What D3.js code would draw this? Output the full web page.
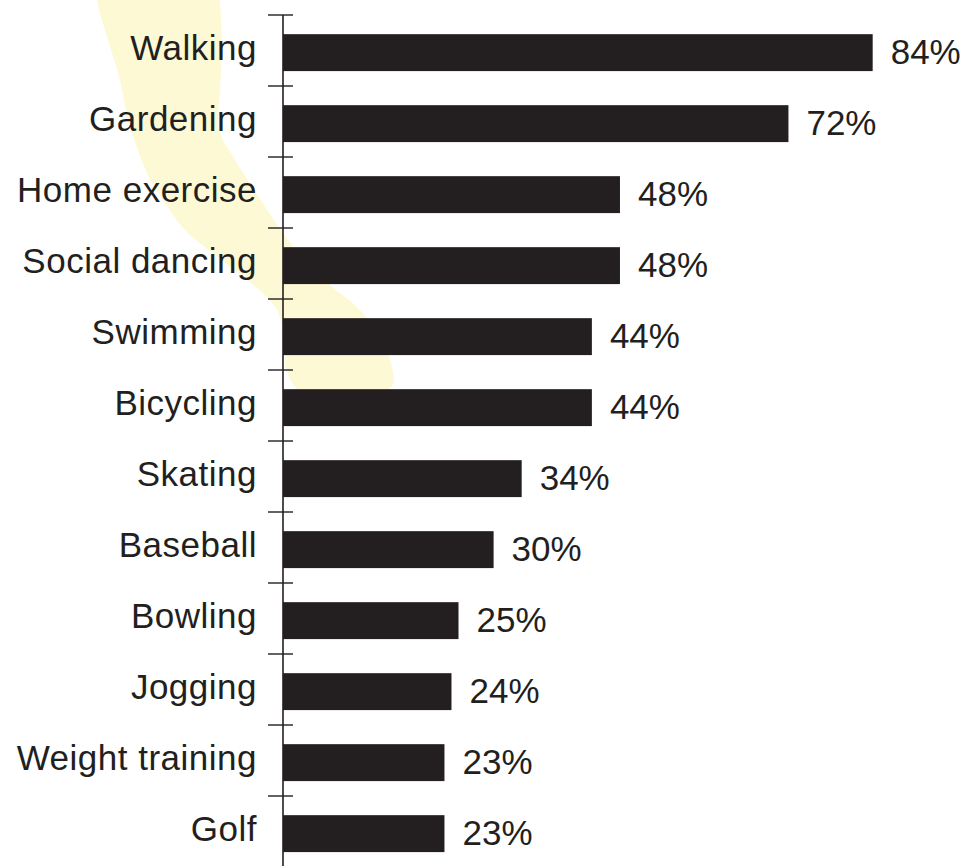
<!DOCTYPE html>
<html>
<head>
<meta charset="utf-8">
<script src="https://cdn.jsdelivr.net/npm/d3@7"></script>
<style>
  html, body { margin: 0; padding: 0; background: #ffffff; }
  svg { display: block; }
</style>
</head>
<body>
<svg id="chart" width="966" height="866"></svg>
<script>
// ---- data ----
const categories = ["Walking", "Gardening", "Home exercise", "Social dancing", "Swimming",
  "Bicycling", "Skating", "Baseball", "Bowling", "Jogging", "Weight training", "Golf"];
const values = [84, 72, 48, 48, 44, 44, 34, 30, 25, 24, 23, 23];
const valueLabels = ["84%", "72%", "48%", "48%", "44%", "44%", "34%", "30%", "25%", "24%", "23%", "23%"];

// decorative background swoosh (not data)
const swoosh = [
  [97, -20], [97, 0], [108, 40], [120, 80], [128, 120], [138, 150], [150, 180], [163, 200], [185, 230],
  [215, 255], [250, 282], [277, 310], [284, 340], [287, 372], [300, 391], [350, 394],
  [392, 386], [390, 360], [377, 332], [356, 306], [330, 285], [292, 245], [262, 202],
  [234, 158], [219, 130], [220, 90], [222, 45], [220, 0], [220, -20]
];

// ---- layout ----
const W = 966, H = 866;
const x0 = 283;
const ink = "#231f20";
const svg = d3.select("#chart");

const x = d3.scaleLinear().domain([0, 100]).range([x0, 985]);
const y = d3.scaleBand().domain(categories).range([15, 867]);
const step = y.step();

// background swoosh
svg.append("path")
  .attr("d", d3.line().curve(d3.curveCatmullRomClosed)(swoosh))
  .attr("fill", "#fef9d5");

const data = categories.map((c, i) => ({ c, v: values[i], label: valueLabels[i] }));

// bars
svg.append("g").selectAll("rect").data(data).join("rect")
  .attr("x", x(0))
  .attr("y", d => y(d.c) + step * 0.27)
  .attr("width", d => x(d.v) - x(0))
  .attr("height", step * 0.52)
  .attr("fill", ink);

// axis line
svg.append("line")
  .attr("x1", x0).attr("x2", x0)
  .attr("y1", y.range()[0]).attr("y2", H)
  .attr("stroke", ink).attr("stroke-width", 1.6);

// ticks at band boundaries
svg.append("g").selectAll("line").data(categories).join("line")
  .attr("x1", x0 - 15).attr("x2", x0 + 10)
  .attr("y1", d => y(d)).attr("y2", d => y(d))
  .attr("stroke", ink).attr("stroke-width", 1.4);

// category labels
svg.append("g").selectAll("text").data(data).join("text")
  .attr("x", x0 - 26)
  .attr("y", d => y(d.c) + step * 0.27 + step * 0.26)
  .attr("dy", "0.2em")
  .attr("text-anchor", "end")
  .attr("font-family", "'Liberation Sans', Arial, Helvetica, sans-serif")
  .attr("font-size", 35)
  .attr("letter-spacing", "0.5px")
  .attr("fill", ink)
  .text(d => d.c);

// value labels
svg.append("g").selectAll("text").data(data).join("text")
  .attr("x", d => x(d.v) + 18)
  .attr("y", d => y(d.c) + step * 0.27 + step * 0.26)
  .attr("dy", "0.32em")
  .attr("text-anchor", "start")
  .attr("font-family", "'Liberation Sans', Arial, Helvetica, sans-serif")
  .attr("font-size", 35)
  .attr("fill", ink)
  .text(d => d.label);
</script>
</body>
</html>
